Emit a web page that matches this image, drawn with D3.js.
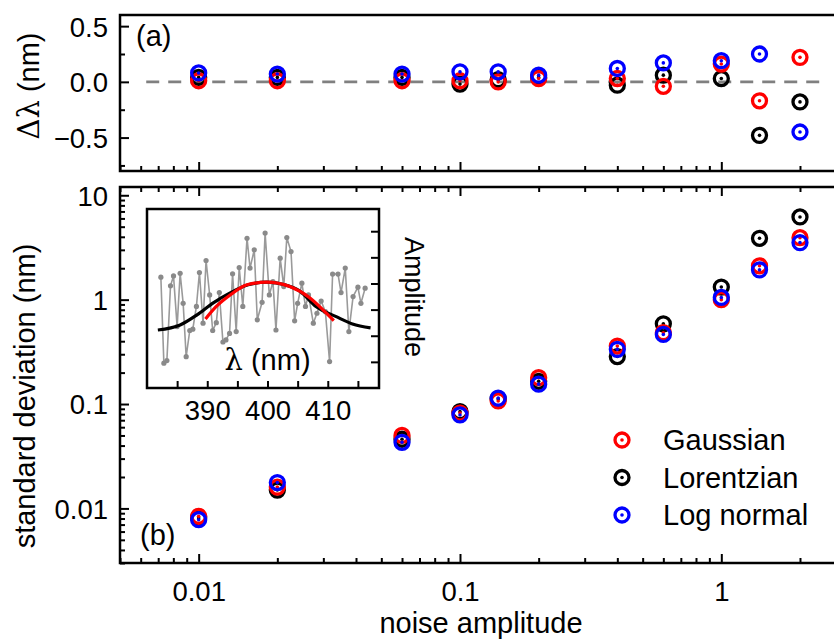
<!DOCTYPE html>
<html>
<head>
<meta charset="utf-8">
<script src="https://cdn.jsdelivr.net/npm/d3@7"></script>
<style>
  body { margin: 0; background: #fff; }
  svg { display: block; font-family: "Liberation Sans", Arial, sans-serif; }
  .frame { fill: none; stroke: #000; stroke-width: 2.5; }
  .tick line { stroke: #000; stroke-width: 2; }
  .tick text { font-size: 27.5px; fill: #000; }
  .title { font-size: 29px; fill: #000; }
  .sym { font-family: "DejaVu Serif", serif; }
</style>
</head>
<body>
<script>
const NOISE = [0.01, 0.02, 0.06, 0.1, 0.14, 0.2, 0.4, 0.6, 1, 1.4, 2];

// (a) peak shift
const SHIFT_GAUSS   = [0.01, 0.01, 0.01, 0.01, 0.0, 0.03, 0.03, -0.04, 0.16, -0.17, 0.22];
const SHIFT_LORENTZ = [0.04, 0.04, 0.04, -0.02, 0.02, 0.04, -0.03, 0.06, 0.03, -0.48, -0.18];
const SHIFT_LOGN    = [0.08, 0.07, 0.07, 0.09, 0.09, 0.06, 0.12, 0.17, 0.19, 0.25, -0.45];

// (b) standard deviation
const SD_GAUSS   = [0.0084, 0.016, 0.050, 0.082, 0.107, 0.179, 0.359, 0.482, 1.0, 2.11, 3.92];
const SD_LORENTZ = [0.0081, 0.015, 0.046, 0.0845, 0.112, 0.165, 0.285, 0.587, 1.32, 3.87, 6.2];
const SD_LOGN    = [0.0078, 0.0177, 0.043, 0.0786, 0.114, 0.155, 0.334, 0.464, 1.05, 1.93, 3.52];

const SERIES = [
  { name: "Lorentzian", color: "#000000", shift: SHIFT_LORENTZ, sd: SD_LORENTZ },
  { name: "Gaussian",   color: "#ff0000", shift: SHIFT_GAUSS,   sd: SD_GAUSS },
  { name: "Log normal", color: "#0000ff", shift: SHIFT_LOGN,    sd: SD_LOGN }
];
const LEGEND_ORDER = ["Gaussian", "Lorentzian", "Log normal"];

// inset: noisy spectrum and fits
const INSET_LAMBDA = [382.3, 382.8, 383.3, 383.9, 384.4, 385.0, 385.5, 386.0, 386.5, 387.1,
  387.6, 388.2, 388.7, 389.3, 389.8, 390.4, 390.9, 391.5, 392.0, 392.6,
  393.1, 393.7, 394.2, 394.8, 395.3, 395.9, 396.6, 397.1, 397.8, 398.3,
  399.1, 399.6, 400.3, 400.9, 401.4, 402.1, 402.7, 403.2, 403.9, 404.5,
  405.0, 405.7, 406.3, 406.8, 407.6, 408.2, 408.9, 409.6, 410.3, 410.8,
  411.7, 412.2, 412.9, 413.5, 414.2, 415.0, 415.5, 416.2];
const INSET_AMP = [4.24, 0.95, 1.05, 3.91, 4.29, 2.35, 4.39, 3.24, 1.20, 2.20,
  2.25, 3.12, 4.42, 2.48, 4.88, 3.56, 2.20, 2.50, 3.65, 1.76,
  1.84, 2.09, 4.37, 2.16, 4.61, 3.12, 5.73, 4.59, 5.29, 2.61,
  3.28, 5.93, 3.56, 4.07, 2.22, 4.97, 3.88, 5.76, 5.22, 2.57,
  3.24, 4.01, 3.12, 3.56, 2.48, 2.86, 3.33, 2.92, 1.01, 4.36,
  4.36, 3.65, 4.59, 2.16, 3.50, 3.86, 3.24, 3.82];
const FIT_GAUSS_LAMBDA = [389.7, 391.5, 393.8, 396.6, 399.9, 403.7, 407.0, 409.2, 411.0];
const FIT_GAUSS_AMP    = [2.64, 3.12, 3.56, 3.95, 4.05, 3.88, 3.45, 2.99, 2.58];
const FIT_LORENTZ_LAMBDA = [381.8, 385.5, 388.3, 391.0, 393.8, 396.8, 399.9, 402.9, 405.4, 408.1, 411.4, 414.1, 417.1];
const FIT_LORENTZ_AMP    = [2.22, 2.41, 2.80, 3.26, 3.64, 3.95, 4.05, 3.95, 3.70, 3.11, 2.73, 2.45, 2.30];

const width = 834;
const height = 639;
const plotX = [120, 846];
const panelA = [171, 15];
const panelB = [563, 187];
const inset = { x0: 147, x1: 379, y0: 388, y1: 209 };

const xScale = d3.scaleLog().domain([0.005, 3]).range(plotX);
const yA = d3.scaleLinear().domain([-0.8, 0.6]).range(panelA);
const yB = d3.scaleLog().domain([0.003, 12]).range(panelB);
const xIn = d3.scaleLinear().domain([380, 418.5]).range([inset.x0, inset.x1]);
const yIn = d3.scaleLinear().domain([0, 6.85]).range([inset.y0, inset.y1]);

const svg = d3.select("body").append("svg")
              .attr("width", width)
              .attr("height", height);

const X_MAJOR = [0.01, 0.1, 1];
const xMinor = xScale.ticks().filter(t => X_MAJOR.indexOf(t) === -1);

const axis = (gen, ticks, size, pos, fmt) => {
  let g = svg.append("g")
             .attr("transform", pos)
             .call(gen.tickValues(ticks).tickSize(size).tickPadding(12).tickFormat(fmt));
  g.select(".domain").remove();
  return g;
};
const noLabel = () => "";

// ---- panel (a)
axis(d3.axisBottom(xScale), X_MAJOR, -9, `translate(0,${panelA[0]})`, noLabel);
axis(d3.axisBottom(xScale), xMinor, -5, `translate(0,${panelA[0]})`, noLabel);
axis(d3.axisLeft(yA), [-0.5, 0, 0.5], -9, `translate(${plotX[0]},0)`, d3.format(".1f"))
  .selectAll("text").attr("x", -12).attr("dy", "0.36em");
axis(d3.axisLeft(yA), [-0.75, -0.25, 0.25], -5, `translate(${plotX[0]},0)`, noLabel);

svg.append("line")
   .attr("x1", xScale(0.0063)).attr("x2", xScale(2.45))
   .attr("y1", yA(0)).attr("y2", yA(0))
   .attr("stroke", "#808080").attr("stroke-width", 2.8)
   .attr("stroke-dasharray", "13,9");

svg.append("rect").attr("class", "frame")
   .attr("x", plotX[0]).attr("y", panelA[1])
   .attr("width", plotX[1] - plotX[0]).attr("height", panelA[0] - panelA[1]);

// ---- panel (b)
const yBMajor = [0.01, 0.1, 1, 10];
const yBMinor = yB.ticks().filter(t => yBMajor.indexOf(t) === -1);
axis(d3.axisBottom(xScale), X_MAJOR, -9, `translate(0,${panelB[0]})`, d => d3.format("~g")(d))
  .selectAll("text").attr("y", 18).attr("dy", "0.71em");
axis(d3.axisBottom(xScale), xMinor, -5, `translate(0,${panelB[0]})`, noLabel);
axis(d3.axisTop(xScale), X_MAJOR, -9, `translate(0,${panelB[1]})`, noLabel);
axis(d3.axisTop(xScale), xMinor, -5, `translate(0,${panelB[1]})`, noLabel);
axis(d3.axisLeft(yB), yBMajor, -9, `translate(${plotX[0]},0)`, d => d3.format("~g")(d))
  .selectAll("text").attr("x", -12).attr("dy", "0.36em");
axis(d3.axisLeft(yB), yBMinor, -5, `translate(${plotX[0]},0)`, noLabel);

svg.append("rect").attr("class", "frame")
   .attr("x", plotX[0]).attr("y", panelB[1])
   .attr("width", plotX[1] - plotX[0]).attr("height", panelB[0] - panelB[1]);

// ---- markers
const marker = (g, x, y, color) => {
  g.append("circle").attr("cx", x).attr("cy", y).attr("r", 7)
   .attr("fill", "none").attr("stroke", color).attr("stroke-width", 3.3);
  g.append("circle").attr("cx", x).attr("cy", y).attr("r", 1.8)
   .attr("fill", color);
};

const marks = svg.append("g");
SERIES.forEach(s => {
  NOISE.forEach((n, i) => marker(marks, xScale(n), yA(s.shift[i]), s.color));
});
SERIES.forEach(s => {
  NOISE.forEach((n, i) => marker(marks, xScale(n), yB(s.sd[i]), s.color));
});

// legend
LEGEND_ORDER.forEach((name, i) => {
  let s = SERIES.find(d => d.name === name);
  let y = 440 + i * 37.5;
  marker(svg, 622, y, s.color);
  svg.append("text").attr("class", "title")
     .attr("x", 663).attr("y", y + 10)
     .text(name);
});

// panel labels and titles
svg.append("text").attr("class", "title").attr("x", 136).attr("y", 46).text("(a)");
svg.append("text").attr("class", "title").attr("x", 140).attr("y", 545).text("(b)");

svg.append("text").attr("class", "title")
   .attr("x", 481).attr("y", 633)
   .attr("text-anchor", "middle")
   .text("noise amplitude");

svg.append("text").attr("class", "title")
   .attr("transform", `translate(35,396) rotate(-90)`)
   .attr("text-anchor", "middle")
   .text("standard deviation (nm)");

let dl = svg.append("text").attr("class", "title")
   .attr("transform", `translate(39,86) rotate(-90)`)
   .attr("text-anchor", "middle");
dl.append("tspan").attr("class", "sym").text("Δλ");
dl.append("tspan").text(" (nm)");

// ---- inset
const ins = svg.append("g");
ins.append("rect").attr("x", inset.x0).attr("y", inset.y1)
   .attr("width", inset.x1 - inset.x0).attr("height", inset.y0 - inset.y1)
   .attr("fill", "#fff");

let gx = ins.append("g").attr("transform", `translate(0,${inset.y0})`)
            .call(d3.axisBottom(xIn).tickValues([385, 390, 395, 400, 405, 410, 415])
                    .tickSize(-7).tickPadding(14)
                    .tickFormat(d => d % 10 === 0 ? d : ""));
gx.select(".domain").remove();
gx.selectAll("text").attr("y", 12).attr("dy", "0.71em");

let gy = ins.append("g").attr("transform", `translate(${inset.x1},0)`)
            .call(d3.axisRight(yIn).tickValues([1, 2, 3, 4, 5, 6]).tickSize(-8).tickFormat(""));
gy.select(".domain").remove();

const spectrum = INSET_LAMBDA.map((l, i) => ({ l: l, a: INSET_AMP[i] }));
const lineIn = d3.line().x(d => xIn(d.l)).y(d => yIn(d.a));

ins.append("path").datum(spectrum)
   .attr("d", lineIn).attr("fill", "none")
   .attr("stroke", "#9a9a9a").attr("stroke-width", 1.6);
ins.selectAll("circle.pt").data(spectrum).enter()
   .append("circle").attr("class", "pt")
   .attr("cx", d => xIn(d.l)).attr("cy", d => yIn(d.a)).attr("r", 2.6)
   .attr("fill", "#8a8a8a");

const fitLine = d3.line().x(d => xIn(d.l)).y(d => yIn(d.a)).curve(d3.curveMonotoneX);
ins.append("path")
   .datum(FIT_LORENTZ_LAMBDA.map((l, i) => ({ l: l, a: FIT_LORENTZ_AMP[i] })))
   .attr("d", fitLine).attr("fill", "none")
   .attr("stroke", "#000").attr("stroke-width", 3.2);
ins.append("path")
   .datum(FIT_GAUSS_LAMBDA.map((l, i) => ({ l: l, a: FIT_GAUSS_AMP[i] })))
   .attr("d", fitLine).attr("fill", "none")
   .attr("stroke", "#ff0000").attr("stroke-width", 3.2);

ins.append("rect").attr("class", "frame")
   .attr("x", inset.x0).attr("y", inset.y1)
   .attr("width", inset.x1 - inset.x0).attr("height", inset.y0 - inset.y1);

let lt = ins.append("text").attr("class", "title")
   .attr("x", xIn(400)).attr("y", 370).attr("text-anchor", "middle");
lt.append("tspan").attr("class", "sym").text("λ");
lt.append("tspan").text(" (nm)");

ins.append("text").attr("class", "title")
   .attr("transform", `translate(405,297) rotate(90)`)
   .attr("text-anchor", "middle")
   .style("font-size", "27px")
   .text("Amplitude");
</script>
</body>
</html>
